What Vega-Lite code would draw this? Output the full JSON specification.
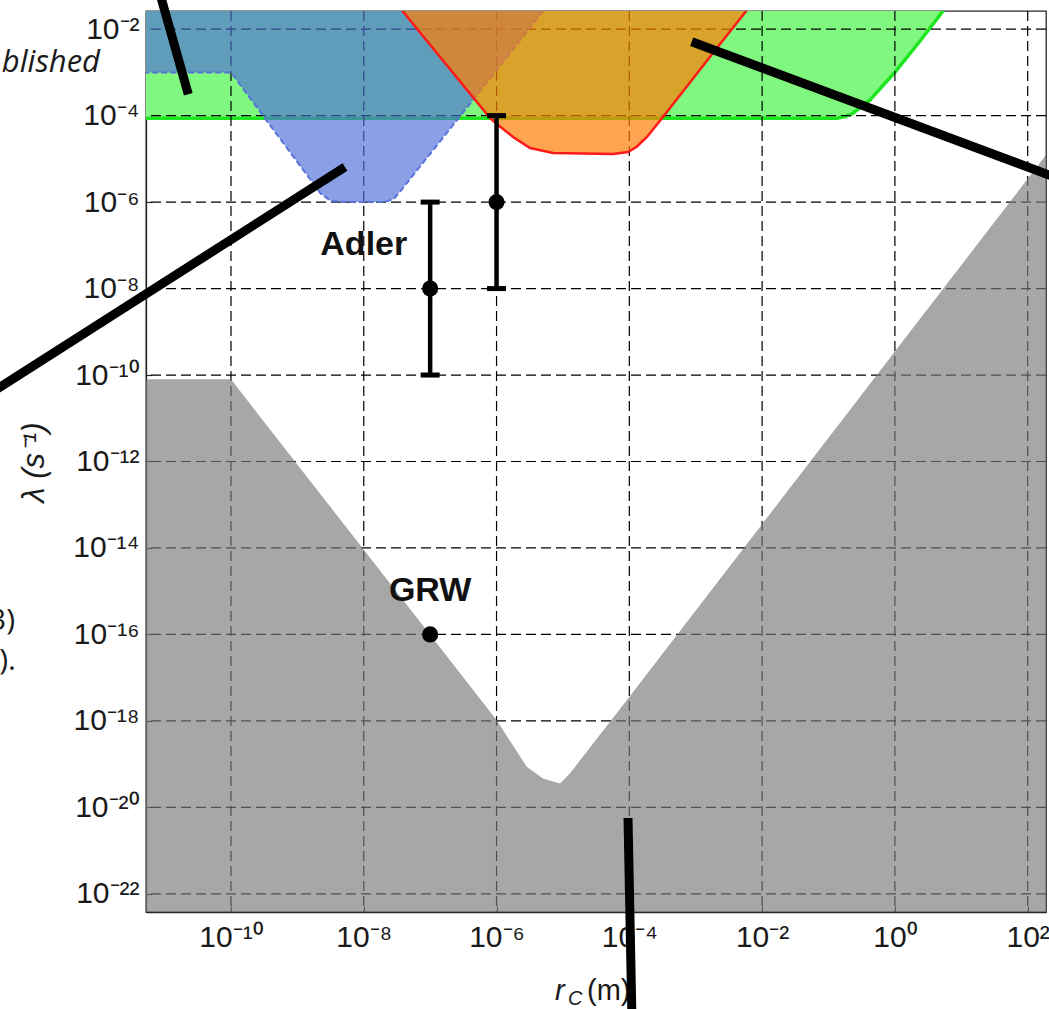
{
  "$schema": "https://vega.github.io/schema/vega-lite/v6.json",
  "width": 900,
  "height": 901,
  "autosize": {"type": "none"},
  "padding": {"left": 146, "top": 11, "right": 3, "bottom": 97},
  "background": "white",
  "config": {
    "view": {"stroke": "#262626", "strokeWidth": 1.3},
    "axis": {
      "zindex": 1,
      "grid": false,
      "domain": true,
      "domainColor": "#262626",
      "domainWidth": 1.3,
      "ticks": true,
      "tickSize": -6,
      "tickColor": "#262626",
      "tickWidth": 1.2,
      "labelFont": "Liberation Sans",
      "labelFontSize": 30,
      "labelColor": "#1a1a1a",
      "labelFlush": false,
      "labelOverlap": false
    }
  },
  "datasets": {
    "green": [
      {"r": 1e-12, "lam": 8.71e-5},
      {"r": 0.1343, "lam": 8.71e-5},
      {"r": 0.1778, "lam": 9.55e-5},
      {"r": 0.226, "lam": 1.091e-4},
      {"r": 0.4217, "lam": 2.30e-4},
      {"r": 1.005, "lam": 1.021e-3},
      {"r": 2.393, "lam": 5.32e-3},
      {"r": 5.309, "lam": 2.63e-2},
      {"r": 10.35, "lam": 0.1}
    ],
    "blue": [
      {"r": 1e-12, "lam": 1e-3},
      {"r": 1e-10, "lam": 1e-3},
      {"r": 2.239e-9, "lam": 1.585e-6},
      {"r": 3.162e-9, "lam": 1.072e-6},
      {"r": 5.012e-9, "lam": 1e-6},
      {"r": 1.995e-8, "lam": 1e-6},
      {"r": 2.818e-8, "lam": 1.175e-6},
      {"r": 3.548e-8, "lam": 1.778e-6},
      {"r": 4.416e-7, "lam": 2.291e-4},
      {"r": 1e-5, "lam": 0.1}
    ],
    "orange": [
      {"r": 1.884e-8, "lam": 0.1},
      {"r": 3.724e-8, "lam": 2.773e-2},
      {"r": 7.98e-7, "lam": 8.81e-5},
      {"r": 1.138e-6, "lam": 5.546e-5},
      {"r": 1.774e-6, "lam": 3.206e-5},
      {"r": 3.199e-6, "lam": 1.782e-5},
      {"r": 7.079e-6, "lam": 1.368e-5},
      {"r": 5.675e-5, "lam": 1.294e-5},
      {"r": 9.55e-5, "lam": 1.442e-5},
      {"r": 1.291e-4, "lam": 1.910e-5},
      {"r": 1.845e-4, "lam": 3.206e-5},
      {"r": 3.214e-4, "lam": 9.29e-5},
      {"r": 1.820e-3, "lam": 2.812e-3},
      {"r": 5.916e-3, "lam": 2.773e-2},
      {"r": 1.138e-2, "lam": 0.1}
    ],
    "gray": [
      {"r": 1e-12, "lam": 7.943e-11},
      {"r": 1e-10, "lam": 7.943e-11},
      {"r": 1e-6, "lam": 1.047e-18},
      {"r": 2.844e-6, "lam": 8.71e-20},
      {"r": 5.012e-6, "lam": 4.677e-20},
      {"r": 9.036e-6, "lam": 3.589e-20},
      {"r": 1.279e-5, "lam": 6.166e-20},
      {"r": 9.141e-5, "lam": 3.020e-18},
      {"r": 188.8, "lam": 1.227e-5},
      {"r": 1000, "lam": 3.467e-4}
    ],
    "gridx": [
      {"r": 1e-10}, {"r": 1e-8}, {"r": 1e-6}, {"r": 1e-4}, {"r": 1e-2}, {"r": 1}, {"r": 100}
    ],
    "gridy": [
      {"lam": 1e-22}, {"lam": 1e-20}, {"lam": 1e-18}, {"lam": 1e-16}, {"lam": 1e-14}, {"lam": 1e-12},
      {"lam": 1e-10}, {"lam": 1e-8}, {"lam": 1e-6}, {"lam": 1e-4}, {"lam": 1e-2}
    ],
    "err": [
      {"r": 1e-7, "lam": 1e-10, "lam2": 1e-6},
      {"r": 1e-6, "lam": 1e-8, "lam2": 1e-4}
    ],
    "dots": [
      {"r": 1e-7, "lam": 1e-8},
      {"r": 1e-6, "lam": 1e-6},
      {"r": 1e-7, "lam": 1e-16}
    ],
    "labels": [
      {"r": 1e-8, "lam": 1e-7, "label": "Adler"},
      {"r": 1e-7, "lam": 1e-15, "label": "GRW"}
    ],
    "strokes": [
      {"r": 7.447e-12, "lam": 0.1371, "r2": 2.275e-11, "lam2": 3.112e-4},
      {"r": 1.660e-14, "lam": 2.673e-11, "r2": 5.212e-9, "lam2": 6.486e-6},
      {"r": 8.71e-4, "lam": 5.129e-3, "r2": 434.5, "lam2": 2.793e-6},
      {"r": 9.55e-5, "lam": 5.675e-21, "r2": 1.104e-4, "lam2": 7.096e-26}
    ]
  },
  "layer": [
    {
      "data": {"name": "green"},
      "mark": {"type": "area", "color": "#80f880", "opacity": 1, "clip": true},
      "encoding": {
        "x": {
          "field": "r",
          "type": "quantitative",
          "scale": {"type": "log", "domain": [5.248e-12, 188.8], "nice": false},
          "axis": {
            "title": null,
            "values": [1e-10, 1e-8, 1e-6, 1e-4, 1e-2, 1, 100],
            "labelExpr": "datum.value < 1e-9 ? '10⁻¹⁰' : datum.value < 1e-7 ? '10⁻⁸' : datum.value < 1e-5 ? '10⁻⁶' : datum.value < 1e-3 ? '10⁻⁴' : datum.value < 0.1 ? '10⁻²' : datum.value < 10 ? '10⁰' : '10²'",
            "labelPadding": 16
          }
        },
        "y": {
          "field": "lam",
          "type": "quantitative",
          "scale": {"type": "log", "domain": [3.802e-23, 2.630e-2], "nice": false},
          "axis": {
            "title": "λ (s⁻¹)",
            "titleFont": "Liberation Sans",
            "titleFontStyle": "italic",
            "titleFontWeight": "normal",
            "titleFontSize": 31,
            "titleColor": "#1a1a1a",
            "titleX": -112,
            "titleY": 451,
            "titleAngle": 270,
            "titleAlign": "center",
            "titleBaseline": "middle",
            "values": [1e-22, 1e-20, 1e-18, 1e-16, 1e-14, 1e-12, 1e-10, 1e-8, 1e-6, 1e-4, 1e-2],
            "labelExpr": "datum.value < 1e-21 ? '10⁻²²' : datum.value < 1e-19 ? '10⁻²⁰' : datum.value < 1e-17 ? '10⁻¹⁸' : datum.value < 1e-15 ? '10⁻¹⁶' : datum.value < 1e-13 ? '10⁻¹⁴' : datum.value < 1e-11 ? '10⁻¹²' : datum.value < 1e-9 ? '10⁻¹⁰' : datum.value < 1e-7 ? '10⁻⁸' : datum.value < 1e-5 ? '10⁻⁶' : datum.value < 1e-3 ? '10⁻⁴' : '10⁻²'",
            "labelPadding": 13
          }
        },
        "y2": {"datum": 0.1}
      }
    },
    {
      "data": {"name": "green"},
      "mark": {"type": "line", "color": "#1ee61e", "strokeWidth": 3.5, "clip": true},
      "encoding": {
        "x": {"field": "r", "type": "quantitative", "scale": {"type": "log", "domain": [5.248e-12, 188.8], "nice": false}},
        "y": {"field": "lam", "type": "quantitative", "scale": {"type": "log", "domain": [3.802e-23, 2.630e-2], "nice": false}}
      }
    },
    {
      "data": {"name": "gridx"},
      "mark": {"type": "rule", "color": "black", "strokeWidth": 1.2, "strokeDash": [10, 5], "clip": true},
      "encoding": {
        "x": {"field": "r", "type": "quantitative", "scale": {"type": "log", "domain": [5.248e-12, 188.8], "nice": false}}
      }
    },
    {
      "data": {"name": "gridy"},
      "mark": {"type": "rule", "color": "black", "strokeWidth": 1.2, "strokeDash": [10, 5], "clip": true},
      "encoding": {
        "y": {"field": "lam", "type": "quantitative", "scale": {"type": "log", "domain": [3.802e-23, 2.630e-2], "nice": false}}
      }
    },
    {
      "data": {"name": "blue"},
      "mark": {"type": "area", "color": "#4d6cd8", "opacity": 0.65, "clip": true},
      "encoding": {
        "x": {"field": "r", "type": "quantitative", "scale": {"type": "log", "domain": [5.248e-12, 188.8], "nice": false}},
        "y": {"field": "lam", "type": "quantitative", "scale": {"type": "log", "domain": [3.802e-23, 2.630e-2], "nice": false}},
        "y2": {"datum": 0.1}
      }
    },
    {
      "data": {"name": "blue"},
      "mark": {"type": "line", "color": "#5872dc", "strokeWidth": 2, "strokeDash": [6, 3], "clip": true},
      "encoding": {
        "x": {"field": "r", "type": "quantitative", "scale": {"type": "log", "domain": [5.248e-12, 188.8], "nice": false}},
        "y": {"field": "lam", "type": "quantitative", "scale": {"type": "log", "domain": [3.802e-23, 2.630e-2], "nice": false}}
      }
    },
    {
      "data": {"name": "orange"},
      "mark": {"type": "area", "color": "#ff7e05", "opacity": 0.7, "clip": true},
      "encoding": {
        "x": {"field": "r", "type": "quantitative", "scale": {"type": "log", "domain": [5.248e-12, 188.8], "nice": false}},
        "y": {"field": "lam", "type": "quantitative", "scale": {"type": "log", "domain": [3.802e-23, 2.630e-2], "nice": false}},
        "y2": {"datum": 0.1}
      }
    },
    {
      "data": {"name": "orange"},
      "mark": {"type": "line", "color": "#ff1a1a", "strokeWidth": 2.5, "clip": true},
      "encoding": {
        "x": {"field": "r", "type": "quantitative", "scale": {"type": "log", "domain": [5.248e-12, 188.8], "nice": false}},
        "y": {"field": "lam", "type": "quantitative", "scale": {"type": "log", "domain": [3.802e-23, 2.630e-2], "nice": false}}
      }
    },
    {
      "data": {"name": "gray"},
      "mark": {"type": "area", "color": "#7a7a7a", "opacity": 0.66, "clip": true},
      "encoding": {
        "x": {"field": "r", "type": "quantitative", "scale": {"type": "log", "domain": [5.248e-12, 188.8], "nice": false}},
        "y": {"field": "lam", "type": "quantitative", "scale": {"type": "log", "domain": [3.802e-23, 2.630e-2], "nice": false}},
        "y2": {"datum": 1e-30}
      }
    },
    {
      "data": {"name": "err"},
      "mark": {"type": "rule", "color": "black", "strokeWidth": 4.5},
      "encoding": {
        "x": {"field": "r", "type": "quantitative", "scale": {"type": "log", "domain": [5.248e-12, 188.8], "nice": false}},
        "y": {"field": "lam", "type": "quantitative", "scale": {"type": "log", "domain": [3.802e-23, 2.630e-2], "nice": false}},
        "y2": {"field": "lam2"}
      }
    },
    {
      "data": {"name": "err"},
      "mark": {"type": "point", "shape": "stroke", "filled": false, "color": "black", "strokeWidth": 5, "size": 361, "opacity": 1},
      "encoding": {
        "x": {"field": "r", "type": "quantitative", "scale": {"type": "log", "domain": [5.248e-12, 188.8], "nice": false}},
        "y": {"field": "lam", "type": "quantitative", "scale": {"type": "log", "domain": [3.802e-23, 2.630e-2], "nice": false}}
      }
    },
    {
      "data": {"name": "err"},
      "mark": {"type": "point", "shape": "stroke", "filled": false, "color": "black", "strokeWidth": 5, "size": 361, "opacity": 1},
      "encoding": {
        "x": {"field": "r", "type": "quantitative", "scale": {"type": "log", "domain": [5.248e-12, 188.8], "nice": false}},
        "y": {"field": "lam2", "type": "quantitative", "scale": {"type": "log", "domain": [3.802e-23, 2.630e-2], "nice": false}}
      }
    },
    {
      "data": {"name": "dots"},
      "mark": {"type": "point", "shape": "circle", "filled": true, "color": "black", "size": 260, "opacity": 1},
      "encoding": {
        "x": {"field": "r", "type": "quantitative", "scale": {"type": "log", "domain": [5.248e-12, 188.8], "nice": false}},
        "y": {"field": "lam", "type": "quantitative", "scale": {"type": "log", "domain": [3.802e-23, 2.630e-2], "nice": false}}
      }
    },
    {
      "data": {"name": "labels"},
      "mark": {"type": "text", "font": "Liberation Sans", "fontWeight": "bold", "fontSize": 34, "color": "#111111", "align": "center", "baseline": "middle"},
      "encoding": {
        "x": {"field": "r", "type": "quantitative", "scale": {"type": "log", "domain": [5.248e-12, 188.8], "nice": false}},
        "y": {"field": "lam", "type": "quantitative", "scale": {"type": "log", "domain": [3.802e-23, 2.630e-2], "nice": false}},
        "text": {"field": "label"}
      }
    },
    {
      "data": {"values": [{"r": 1.064e-12, "lam": 1.02e-3, "label": "blished"}]},
      "mark": {"type": "text", "font": "Open Sans", "fontStyle": "italic", "fontSize": 31, "color": "#1a1a1a", "align": "right", "baseline": "alphabetic"},
      "encoding": {
        "x": {"field": "r", "type": "quantitative", "scale": {"type": "log", "domain": [5.248e-12, 188.8], "nice": false}},
        "y": {"field": "lam", "type": "quantitative", "scale": {"type": "log", "domain": [3.802e-23, 2.630e-2], "nice": false}},
        "text": {"field": "label"}
      }
    },
    {
      "data": {"values": [
        {"r": 5.585e-14, "lam": 1.268e-16, "label": "(3)"},
        {"r": 5.78e-14, "lam": 1.503e-17, "label": "(4)."}
      ]},
      "mark": {"type": "text", "font": "Open Sans", "fontSize": 30, "color": "#1a1a1a", "align": "right", "baseline": "alphabetic"},
      "encoding": {
        "x": {"field": "r", "type": "quantitative", "scale": {"type": "log", "domain": [5.248e-12, 188.8], "nice": false}},
        "y": {"field": "lam", "type": "quantitative", "scale": {"type": "log", "domain": [3.802e-23, 2.630e-2], "nice": false}},
        "text": {"field": "label"}
      }
    },
    {
      "data": {"values": [{"r": 7.603e-6, "lam": 3.499e-25, "label": "r"}]},
      "mark": {"type": "text", "font": "Liberation Sans", "fontStyle": "italic", "fontSize": 29, "color": "#1a1a1a", "align": "left", "baseline": "alphabetic"},
      "encoding": {
        "x": {"field": "r", "type": "quantitative", "scale": {"type": "log", "domain": [5.248e-12, 188.8], "nice": false}},
        "y": {"field": "lam", "type": "quantitative", "scale": {"type": "log", "domain": [3.802e-23, 2.630e-2], "nice": false}},
        "text": {"field": "label"}
      }
    },
    {
      "data": {"values": [{"r": 1.191e-5, "lam": 2.685e-25, "label": "C"}]},
      "mark": {"type": "text", "font": "Liberation Sans", "fontStyle": "italic", "fontSize": 20, "color": "#1a1a1a", "align": "left", "baseline": "alphabetic"},
      "encoding": {
        "x": {"field": "r", "type": "quantitative", "scale": {"type": "log", "domain": [5.248e-12, 188.8], "nice": false}},
        "y": {"field": "lam", "type": "quantitative", "scale": {"type": "log", "domain": [3.802e-23, 2.630e-2], "nice": false}},
        "text": {"field": "label"}
      }
    },
    {
      "data": {"values": [{"r": 2.307e-5, "lam": 3.499e-25, "label": "(m)"}]},
      "mark": {"type": "text", "font": "Liberation Sans", "fontSize": 29, "color": "#1a1a1a", "align": "left", "baseline": "alphabetic"},
      "encoding": {
        "x": {"field": "r", "type": "quantitative", "scale": {"type": "log", "domain": [5.248e-12, 188.8], "nice": false}},
        "y": {"field": "lam", "type": "quantitative", "scale": {"type": "log", "domain": [3.802e-23, 2.630e-2], "nice": false}},
        "text": {"field": "label"}
      }
    },
    {
      "data": {"name": "strokes"},
      "mark": {"type": "rule", "color": "black", "strokeWidth": 9, "strokeCap": "butt"},
      "encoding": {
        "x": {"field": "r", "type": "quantitative", "scale": {"type": "log", "domain": [5.248e-12, 188.8], "nice": false}},
        "y": {"field": "lam", "type": "quantitative", "scale": {"type": "log", "domain": [3.802e-23, 2.630e-2], "nice": false}},
        "x2": {"field": "r2"},
        "y2": {"field": "lam2"}
      }
    }
  ]
}
